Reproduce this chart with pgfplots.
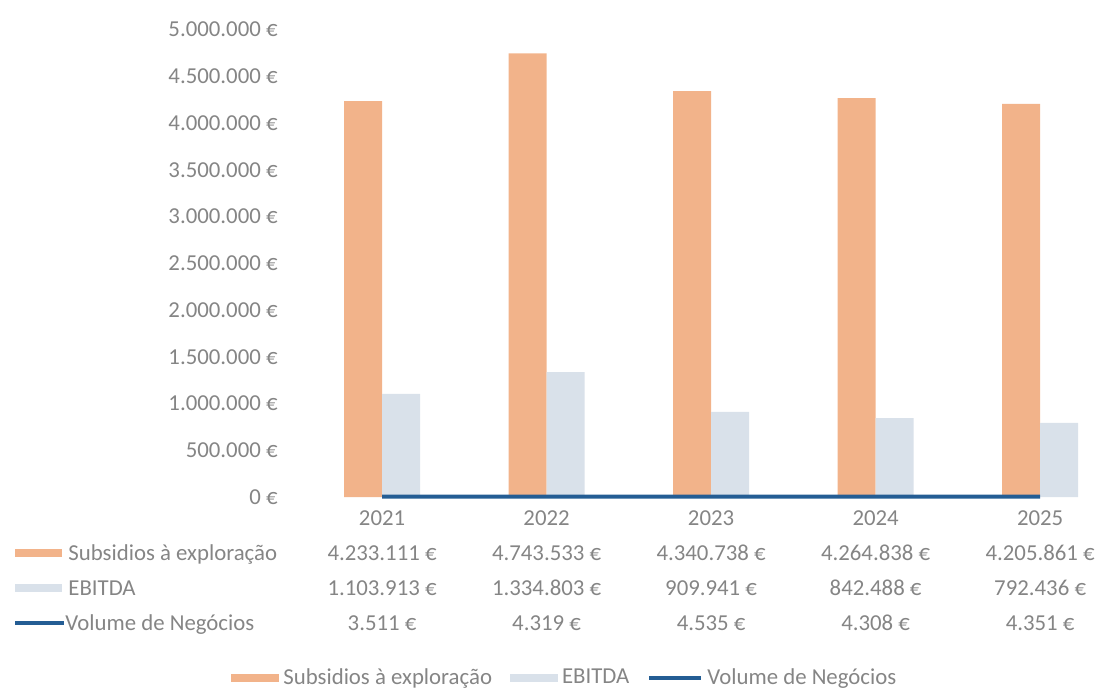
\documentclass[border=0pt]{standalone}
\usepackage{pgfplots}
\pgfplotsset{compat=1.18}
\usepackage{fontspec}
\setmainfont{Carlito}

\definecolor{subsOrange}{HTML}{F2B38A}
\definecolor{ebitdaGrey}{HTML}{D9E1EA}
\definecolor{volBlue}{HTML}{245D94}
\definecolor{txtGrey}{HTML}{858585}

\begin{document}
\begin{tikzpicture}[font=\fontsize{11.4}{13}\selectfont]
\useasboundingbox (0,0) rectangle (550.5pt,346.5pt);
\begin{axis}[
  scale only axis,
  width=400.6pt, height=233.75pt,
  at={(149.9pt,98pt)}, anchor=south west,
  xmin=-0.5, xmax=4.37,
  ymin=0, ymax=5000000,
  scaled y ticks=false,
  axis line style={draw=none},
  major tick length=0pt,
  tick style={draw=none},
  ytick={0,500000,1000000,1500000,2000000,2500000,3000000,3500000,4000000,4500000,5000000},
  yticklabels={0 €,500.000 €,1.000.000 €,1.500.000 €,2.000.000 €,2.500.000 €,3.000.000 €,3.500.000 €,4.000.000 €,4.500.000 €,5.000.000 €},
  yticklabel style={anchor=east, inner sep=0pt, xshift=-10.9pt, text=txtGrey},
  xtick={0,1,2,3,4},
  xticklabels={
    {2021\\4.233.111 €\\1.103.913 €\\3.511 €},
    {2022\\4.743.533 €\\1.334.803 €\\4.319 €},
    {2023\\4.340.738 €\\909.941 €\\4.535 €},
    {2024\\4.264.838 €\\842.488 €\\4.308 €},
    {2025\\4.205.861 €\\792.436 €\\4.351 €}},
  xticklabel style={align=center, anchor=north, inner sep=0pt, yshift=-6.6pt,
    text=txtGrey, font=\fontsize{11.4}{17.5}\selectfont},
  clip=false,
  legend columns=3,
  legend cell align=left,
  legend style={draw=none, fill=none, text=txtGrey,
    at={(axis description cs:0.332,-0.387)}, anchor=center,
    /tikz/every even column/.append style={column sep=7pt},
    font=\fontsize{11.4}{13}\selectfont},
]
\addplot[ybar, bar width=19pt, bar shift=-9.5pt, fill=subsOrange, draw=none,
  legend image code/.code={\fill[subsOrange] (0pt,-2.2pt) rectangle (24pt,2.2pt);}]
  coordinates {(0,4233111) (1,4743533) (2,4340738) (3,4264838) (4,4205861)};
\addlegendentry{Subsidios à exploração}
\addplot[ybar, bar width=19pt, bar shift=9.5pt, fill=ebitdaGrey, draw=none,
  legend image code/.code={\fill[ebitdaGrey] (0pt,-2.2pt) rectangle (24pt,2.2pt);}]
  coordinates {(0,1103913) (1,1334803) (2,909941) (3,842488) (4,792436)};
\addlegendentry{EBITDA}
\addplot[volBlue, line width=2pt, mark=none,
  legend image code/.code={\draw[volBlue, line width=2pt] (0pt,0pt) -- (26pt,0pt);}]
  coordinates {(0,3511) (1,4319) (2,4535) (3,4308) (4,4351)};
\addlegendentry{Volume de Negócios}
\end{axis}

% row keys of the data table
\fill[subsOrange] (7.5pt,67.8pt) rectangle (31pt,72.2pt);
\node[anchor=base west, inner sep=0pt, text=txtGrey] at (34pt,66.4pt) {Subsidios à exploração};
\fill[ebitdaGrey] (7.5pt,50.3pt) rectangle (31pt,54.7pt);
\node[anchor=base west, inner sep=0pt, text=txtGrey] at (34pt,48.9pt) {EBITDA};
\draw[volBlue, line width=2pt] (7.5pt,35pt) -- (32pt,35pt);
\node[anchor=base west, inner sep=0pt, text=txtGrey] at (32.5pt,31.4pt) {Volume de Negócios};
\end{tikzpicture}
\end{document}
